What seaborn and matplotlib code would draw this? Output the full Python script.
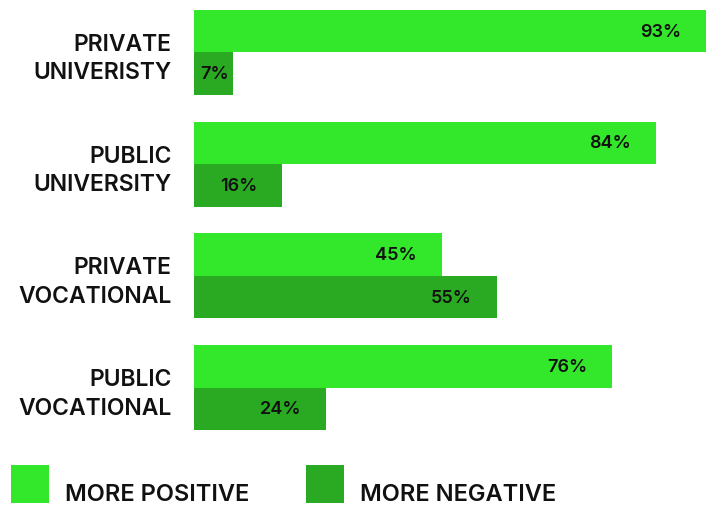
import matplotlib
matplotlib.use("Agg")
import matplotlib.pyplot as plt
from matplotlib.patches import Rectangle
import pandas as pd
import seaborn as sns

# Survey shares by institution type
categories = ["PRIVATE\nUNIVERISTY", "PUBLIC\nUNIVERSITY", "PRIVATE\nVOCATIONAL", "PUBLIC\nVOCATIONAL"]
more_positive = [93, 84, 45, 76]
more_negative = [7, 16, 55, 24]
series_names = ["MORE POSITIVE", "MORE NEGATIVE"]
colors = ["#33E82B", "#2AAA22"]

df = pd.DataFrame({
    "category": categories * 2,
    "share": more_positive + more_negative,
    "series": [series_names[0]] * len(categories) + [series_names[1]] * len(categories),
})

sns.set_theme(style="white")
plt.rcParams["font.family"] = ["Inter", "DejaVu Sans"]

fig = plt.figure(figsize=(7.16, 5.06), dpi=100)
ax = fig.add_axes([194 / 716, 1 - 431 / 506, 522 / 716, 420 / 506])

sns.barplot(
    data=df, x="share", y="category", hue="series", hue_order=series_names,
    palette=colors, orient="h", width=0.76, saturation=1, legend=False, ax=ax,
    linewidth=0, edgecolor="none",
)

ax.set_xlim(0, 94.9)
ax.set_ylim(3.38, -0.38)
ax.set_xlabel("")
ax.set_ylabel("")
ax.set_xticks([])
for s in ax.spines.values():
    s.set_visible(False)
ax.tick_params(axis="y", length=0, pad=16)
for lbl in ax.get_yticklabels():
    lbl.set_fontsize(16.5)
    lbl.set_fontweight("semibold")
    lbl.set_color("#111111")
    lbl.set_linespacing(1.38)

# Value labels inside the bars
for container, values in zip(ax.containers, [more_positive, more_negative]):
    for patch, v in zip(container.patches, values):
        yc = patch.get_y() + patch.get_height() / 2
        xpos = max(v - 4.5, 6.4)
        ax.text(xpos, yc, f"{v}%", ha="right", va="center",
                fontsize=13, fontweight="semibold", color="#111111")

# Legend below the plot
legend_x = [11, 306]
for x0, name, c in zip(legend_x, series_names, colors):
    fig.patches.append(Rectangle((x0 / 716, 1 - 504 / 506), 38 / 716, 38 / 506,
                                 transform=fig.transFigure, color=c, linewidth=0))
    fig.text((x0 + 54) / 716, 1 - 501 / 506, name, ha="left", va="baseline",
             fontsize=17, fontweight="semibold", color="#111111")

fig.savefig("out.png", dpi=100)
